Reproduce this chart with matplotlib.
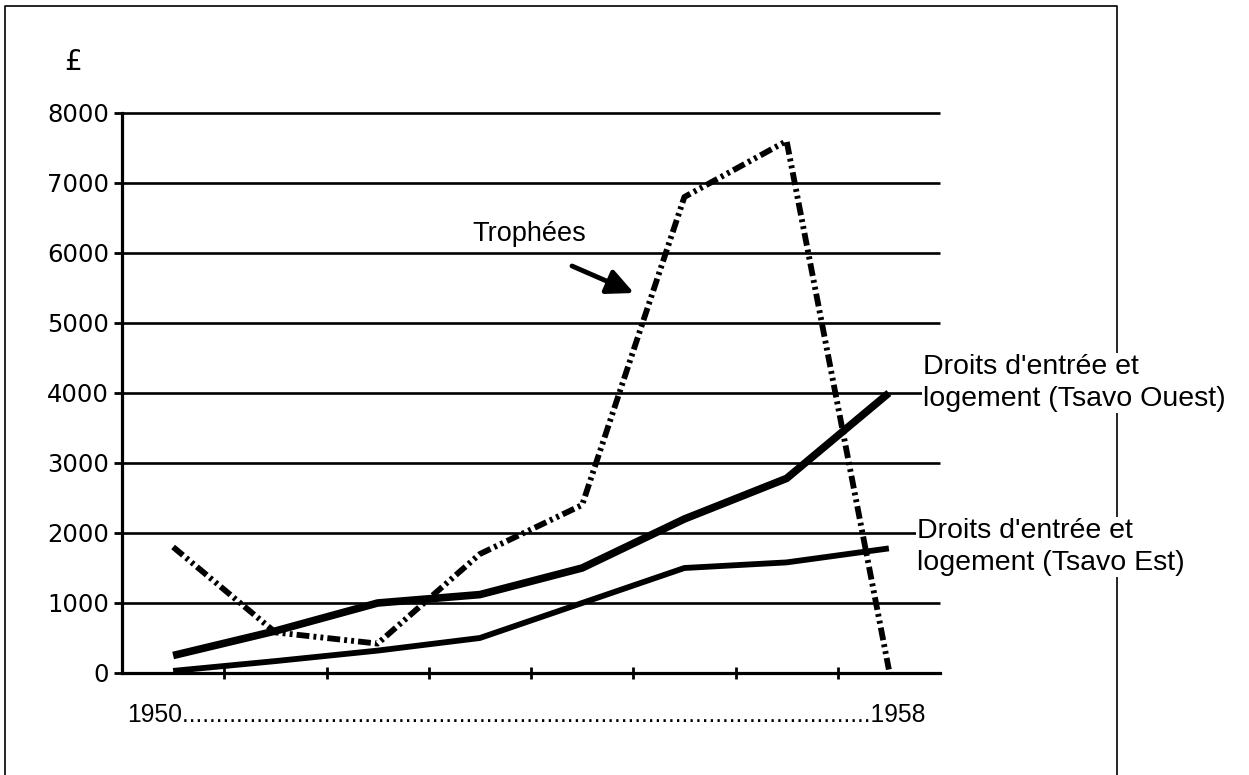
import numpy as np
import matplotlib.pyplot as plt
from matplotlib.patches import FancyArrowPatch

# Données (£)
annees = [1950, 1951, 1952, 1953, 1954, 1955, 1956, 1957]
trophees = [1800, 580, 420, 1700, 2400, 6800, 7600, 50]
tsavo_ouest = [250, 600, 1000, 1120, 1500, 2200, 2780, 4000]
tsavo_est = [30, 170, 320, 500, 1000, 1500, 1580, 1780]
yticks = [0, 1000, 2000, 3000, 4000, 5000, 6000, 7000, 8000]

W, H = 1249, 775
fig = plt.figure(figsize=(W / 100, H / 100), dpi=100)
ax = fig.add_axes([122 / W, (H - 673) / H, (940 - 122) / W, (673 - 113) / H])

x = np.arange(len(annees))
ax.set_xlim(-0.5, len(annees) - 0.5)
ax.set_ylim(0, 8000)

# grille horizontale
ax.hlines(yticks, -0.5, len(annees) - 0.5, color='black', lw=1.9, clip_on=False, zorder=1)

ax.plot(x, tsavo_ouest, color='black', lw=5.5, solid_capstyle='butt', solid_joinstyle='round', zorder=3)
ax.plot(x, tsavo_est, color='black', lw=4.2, solid_capstyle='butt', solid_joinstyle='round', zorder=3)
ax.plot(x, trophees, color='black', lw=4.2, linestyle=(0, (2.2, 0.7, 0.5, 0.7, 0.5, 0.7)),
        dash_capstyle='butt', zorder=4)

for s in ['top', 'right']:
    ax.spines[s].set_visible(False)
for s in ['left', 'bottom']:
    ax.spines[s].set_linewidth(2.3)

ax.set_xticks(np.arange(0.5, len(annees) - 1, 1))
ax.set_xticklabels([])
ax.tick_params(axis='x', direction='inout', length=9, width=2)
ax.set_yticks(yticks)
ax.set_yticklabels([str(v) for v in yticks], fontsize=17.5, family='DejaVu Sans')
ax.tick_params(axis='y', direction='out', length=6, width=2, pad=3.5)

def fx(px):
    return px / W

def fy(py):
    return 1 - py / H

# cadre
fig.add_artist(plt.Line2D([fx(5), fx(5), fx(1117), fx(1117)], [0, fy(6), fy(6), 0],
                          color='black', lw=1.2, zorder=0))

fig.text(fx(73), fy(62), '£', fontsize=20, family='DejaVu Sans', ha='center', va='center')

fig.text(fx(127), fy(722), str(annees[0]) + '.' * 102 + '1958', fontsize=17.8,
         family='Liberation Sans', ha='left', va='baseline')

fig.text(fx(472), fy(241), 'Trophées', fontsize=19.5, family='Liberation Sans',
         ha='left', va='baseline')
fig.add_artist(FancyArrowPatch((fx(572), fy(266)), (fx(634), fy(293)), transform=fig.transFigure,
                               arrowstyle='-|>,head_length=0.8,head_width=0.38', mutation_scale=20,
                               color='black', lw=3.5, shrinkA=0, shrinkB=0))

box = dict(facecolor='white', edgecolor='none', pad=1)
fig.text(fx(923), fy(406), "Droits d'entrée et\nlogement (Tsavo Ouest)", fontsize=20.5,
         family='Liberation Sans', ha='left', va='baseline', linespacing=1.3, bbox=box, zorder=5)
fig.text(fx(917), fy(570), "Droits d'entrée et\nlogement (Tsavo Est)", fontsize=20.5,
         family='Liberation Sans', ha='left', va='baseline', linespacing=1.3, bbox=box, zorder=5)

fig.savefig('out.png', dpi=100)
